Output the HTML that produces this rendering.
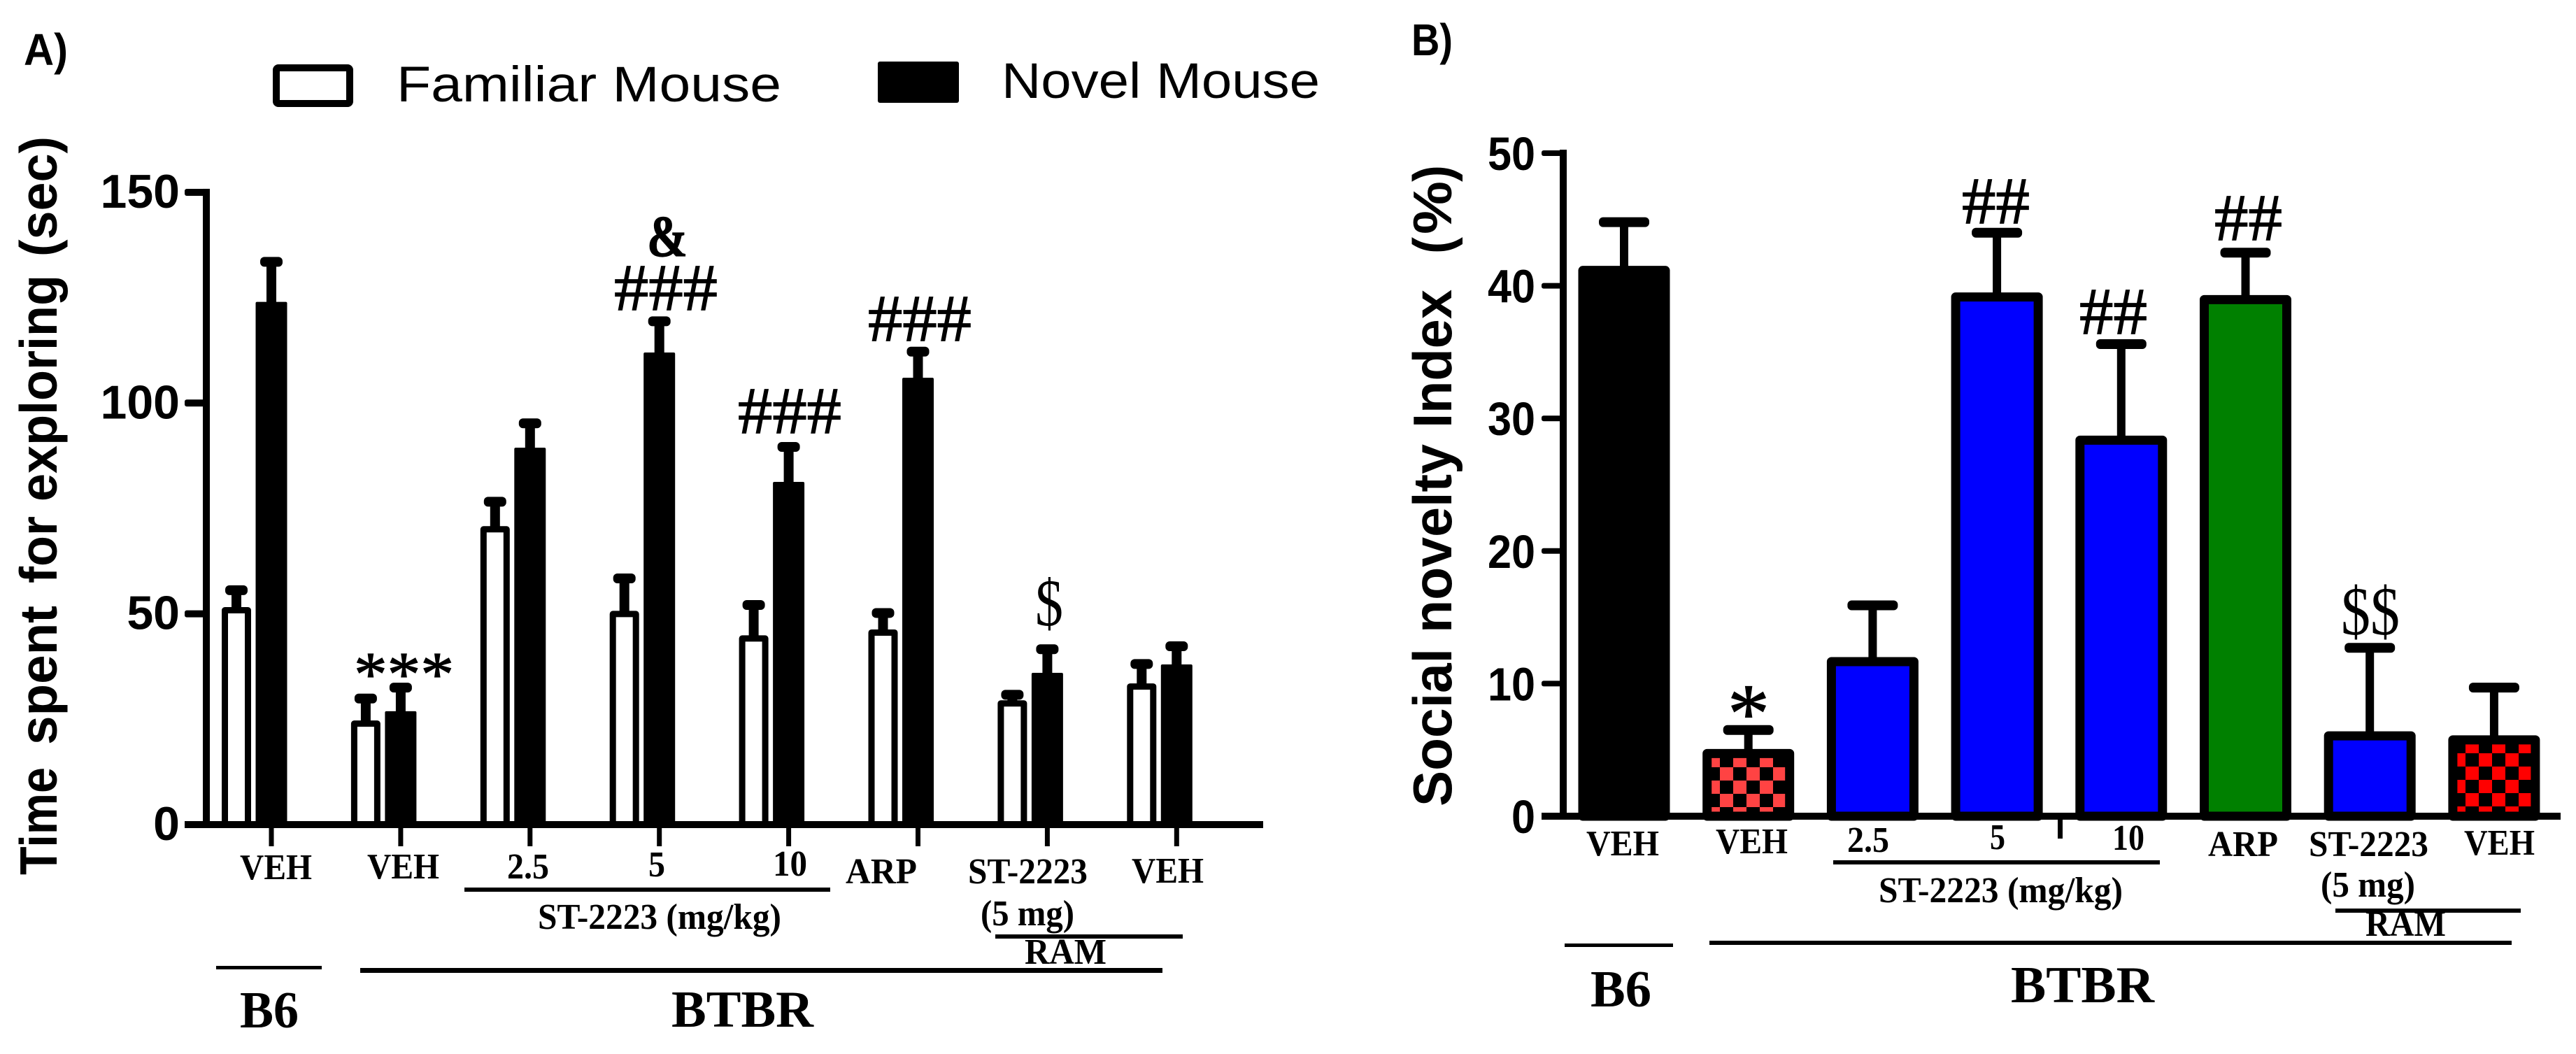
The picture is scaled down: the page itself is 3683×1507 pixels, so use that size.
<!DOCTYPE html>
<html lang="en">
<head>
<meta charset="utf-8">
<title>Social novelty charts</title>
<style>
html,body{margin:0;padding:0;background:#fff;}
svg{display:block;}
text{white-space:pre;fill:#000;}
.sans{font-family:"Liberation Sans",Arial,sans-serif;}
.serif{font-family:"Liberation Serif","Times New Roman",serif;}
.b{font-weight:bold;}
.xl{font-family:"Liberation Serif","Times New Roman",serif;font-weight:bold;font-size:52px;}
.gr{font-family:"Liberation Serif","Times New Roman",serif;font-weight:bold;font-size:74px;}
.ann{font-family:"Liberation Serif","Times New Roman",serif;stroke:#000;stroke-width:1.2px;}
</style>
</head>
<body>
<svg id="fig" xmlns="http://www.w3.org/2000/svg" width="3683" height="1507" viewBox="0 0 3683 1507">
<defs>
<pattern id="chk-light" patternUnits="userSpaceOnUse" x="2459" y="1097" width="38" height="38">
<rect width="38" height="38" fill="#000"/><rect width="19" height="19" fill="#ff4343"/><rect x="19" y="19" width="19" height="19" fill="#ff4343"/>
</pattern>
<pattern id="chk-red" patternUnits="userSpaceOnUse" x="3525" y="1096" width="38" height="38">
<rect width="38" height="38" fill="#000"/><rect width="19" height="19" fill="#ff0000"/><rect x="19" y="19" width="19" height="19" fill="#ff0000"/>
</pattern>
</defs>
<rect width="3683" height="1507" fill="#fff"/>

<g id="panelA">
<text class="sans b" x="34" y="93" font-size="64" textLength="63" lengthAdjust="spacingAndGlyphs">A)</text>
<rect x="395" y="97" width="105" height="51" rx="3" fill="#fff" stroke="#000" stroke-width="10"/>
<text class="sans" x="567" y="145" font-size="71" textLength="550" lengthAdjust="spacingAndGlyphs">Familiar Mouse</text>
<rect x="1255" y="88" width="116" height="59" rx="3" fill="#000"/>
<text class="sans" x="1432" y="140" font-size="71" textLength="455" lengthAdjust="spacingAndGlyphs">Novel Mouse</text>
<g>
<text class="sans b" transform="translate(81 1251) rotate(-90)" font-size="75" textLength="154" lengthAdjust="spacingAndGlyphs">Time</text>
<text class="sans b" transform="translate(81 1065) rotate(-90)" font-size="75" textLength="199" lengthAdjust="spacingAndGlyphs">spent</text>
<text class="sans b" transform="translate(81 834) rotate(-90)" font-size="75" textLength="96" lengthAdjust="spacingAndGlyphs">for</text>
<text class="sans b" transform="translate(81 717) rotate(-90)" font-size="75" textLength="324" lengthAdjust="spacingAndGlyphs">exploring</text>
<text class="sans b" transform="translate(81 367) rotate(-90)" font-size="75" textLength="172" lengthAdjust="spacingAndGlyphs">(sec)</text>
</g>

<text class="ann b" x="925" y="366" font-size="84" textLength="58" lengthAdjust="spacingAndGlyphs">&amp;</text>
<text class="ann" x="878" y="443" font-size="95" textLength="148" lengthAdjust="spacingAndGlyphs">###</text>
<text class="ann" x="1055" y="619" font-size="95" textLength="148" lengthAdjust="spacingAndGlyphs">###</text>
<text class="ann" x="1241" y="487" font-size="95" textLength="148" lengthAdjust="spacingAndGlyphs">###</text>
<text class="ann" x="506" y="994" font-size="90" textLength="143" lengthAdjust="spacingAndGlyphs">***</text>
<text class="ann" x="1480" y="894" font-size="95" textLength="40" lengthAdjust="spacingAndGlyphs" style="stroke-width:0">$</text>

<text class="xl" x="343" y="1257" textLength="103" lengthAdjust="spacingAndGlyphs">VEH</text>
<text class="xl" x="525" y="1256" textLength="103" lengthAdjust="spacingAndGlyphs">VEH</text>
<text class="xl" x="725" y="1256" textLength="60" lengthAdjust="spacingAndGlyphs">2.5</text>
<text class="xl" x="927" y="1253" textLength="24" lengthAdjust="spacingAndGlyphs">5</text>
<text class="xl" x="1105" y="1252" textLength="49" lengthAdjust="spacingAndGlyphs">10</text>
<text class="xl" x="1209" y="1263" textLength="102" lengthAdjust="spacingAndGlyphs">ARP</text>
<text class="xl" x="1384" y="1263" textLength="171" lengthAdjust="spacingAndGlyphs">ST-2223</text>
<text class="xl" x="1618" y="1262" textLength="103" lengthAdjust="spacingAndGlyphs">VEH</text>
<rect x="664" y="1269" width="523" height="6" fill="#000"/>
<text class="xl" x="769" y="1328" textLength="348" lengthAdjust="spacingAndGlyphs">ST-2223 (mg/kg)</text>
<text class="xl" x="1402" y="1323" textLength="134" lengthAdjust="spacingAndGlyphs">(5 mg)</text>
<rect x="1423" y="1336" width="268" height="6" fill="#000"/>
<text class="xl" x="1465" y="1378" textLength="117" lengthAdjust="spacingAndGlyphs">RAM</text>
<rect x="309" y="1381" width="151" height="5" fill="#000"/>
<rect x="515" y="1384" width="1147" height="7" fill="#000"/>
<text class="gr" x="343" y="1469" textLength="84" lengthAdjust="spacingAndGlyphs">B6</text>
<text class="gr" x="960" y="1468" textLength="203" lengthAdjust="spacingAndGlyphs">BTBR</text>
</g>

<g id="panelB">
<text class="sans b" x="2018" y="79" font-size="64" textLength="59" lengthAdjust="spacingAndGlyphs">B)</text>
<g>
<text class="sans b" transform="translate(2075 1153) rotate(-90)" font-size="78" textLength="226" lengthAdjust="spacingAndGlyphs">Social</text>
<text class="sans b" transform="translate(2075 905) rotate(-90)" font-size="78" textLength="270" lengthAdjust="spacingAndGlyphs">novelty</text>
<text class="sans b" transform="translate(2075 612) rotate(-90)" font-size="78" textLength="198" lengthAdjust="spacingAndGlyphs">Index</text>
<text class="sans b" transform="translate(2075 363) rotate(-90)" font-size="78" textLength="24" lengthAdjust="spacingAndGlyphs">(</text>
<text class="sans b" transform="translate(2075 335) rotate(-90)" font-size="78" textLength="76" lengthAdjust="spacingAndGlyphs">%</text>
<text class="sans b" transform="translate(2075 260) rotate(-90)" font-size="78" textLength="24" lengthAdjust="spacingAndGlyphs">)</text>
</g>

<text class="ann" x="2805" y="319" font-size="95" textLength="97" lengthAdjust="spacingAndGlyphs">##</text>
<text class="ann" x="2973" y="477" font-size="95" textLength="97" lengthAdjust="spacingAndGlyphs">##</text>
<text class="ann" x="3166" y="343" font-size="95" textLength="97" lengthAdjust="spacingAndGlyphs">##</text>
<text class="ann" x="2500" y="1060" font-size="120" text-anchor="middle">*</text>
<text class="ann" x="3347" y="907" font-size="99" textLength="84" lengthAdjust="spacingAndGlyphs" style="stroke-width:0">$$</text>

<text class="xl" x="2268" y="1223" textLength="104" lengthAdjust="spacingAndGlyphs">VEH</text>
<text class="xl" x="2453" y="1220" textLength="103" lengthAdjust="spacingAndGlyphs">VEH</text>
<text class="xl" x="2641" y="1218" textLength="60" lengthAdjust="spacingAndGlyphs">2.5</text>
<text class="xl" x="2845" y="1214" textLength="22" lengthAdjust="spacingAndGlyphs">5</text>
<text class="xl" x="3020" y="1215" textLength="46" lengthAdjust="spacingAndGlyphs">10</text>
<text class="xl" x="3157" y="1224" textLength="100" lengthAdjust="spacingAndGlyphs">ARP</text>
<text class="xl" x="3301" y="1224" textLength="171" lengthAdjust="spacingAndGlyphs">ST-2223</text>
<text class="xl" x="3523" y="1222" textLength="101" lengthAdjust="spacingAndGlyphs">VEH</text>
<rect x="2621" y="1230" width="467" height="6" fill="#000"/>
<text class="xl" x="2686" y="1290" textLength="349" lengthAdjust="spacingAndGlyphs">ST-2223 (mg/kg)</text>
<text class="xl" x="3318" y="1282" textLength="135" lengthAdjust="spacingAndGlyphs">(5 mg)</text>
<rect x="3339" y="1299" width="265" height="6" fill="#000"/>
<text class="xl" x="3382" y="1338" textLength="115" lengthAdjust="spacingAndGlyphs">RAM</text>
<rect x="2237" y="1349" width="155" height="5" fill="#000"/>
<rect x="2444" y="1345" width="1147" height="6" fill="#000"/>
<text class="gr" x="2274" y="1439" textLength="87" lengthAdjust="spacingAndGlyphs">B6</text>
<text class="gr" x="2875" y="1433" textLength="205" lengthAdjust="spacingAndGlyphs">BTBR</text>
</g>
</svg>

<script>
// Panel A data
const groupsA = ['VEH B6', 'VEH BTBR', '2.5', '5', '10', 'ARP', 'ST-2223 RAM', 'VEH RAM'];
const familiarMeans = [51.6, 24.7, 70.8, 50.7, 44.9, 46.3, 29.5, 33.5];
const familiarErrors = [55.6, 29.9, 76.6, 58.4, 52.1, 50.2, 30.8, 38.1];
const novelMeans = [124, 26.9, 89.4, 112, 81.3, 106, 36, 38];
const novelErrors = [133.5, 32.5, 95.2, 119.4, 89.6, 112.2, 41.6, 42.3];
const ticksA = [0, 50, 100, 150];

// Panel B data
const groupsB = ['VEH B6', 'VEH BTBR', '2.5', '5', '10', 'ARP', 'ST-2223 RAM', 'VEH RAM'];
const indexMeans = [41.5, 5.07, 12.0, 39.5, 28.7, 39.3, 6.4, 6.1];
const indexErrors = [44.8, 6.5, 15.9, 44, 35.6, 42.5, 12.7, 9.7];
const indexFills = ['#000000', 'url(#chk-light)', '#0000ff', '#0000ff', '#0000ff', '#008000', '#0000ff', 'url(#chk-red)'];
const ticksB = [0, 10, 20, 30, 40, 50];

const NS = 'http://www.w3.org/2000/svg';
function mk(parent, tag, attrs) {
  const el = document.createElementNS(NS, tag);
  for (const k in attrs) el.setAttribute(k, attrs[k]);
  parent.appendChild(el);
  return el;
}

// Axis functions
function yA(v) { return 1179 - v * 6.027; }
function xA(i) { return 388 + 184.9 * i; }
function yB(v) { return 1167 - v * 18.96; }
function xB(i) { return 2322 + 177.7 * i; }

const panelA = document.getElementById('panelA');
const panelB = document.getElementById('panelB');

// ---- Panel A marks
function errorA(cx, mean, err, label) {
  const stem = mk(panelA, 'rect', { x: cx - 7, y: yA(err), width: 14, height: yA(mean) - yA(err) + 4, fill: '#000' });
  
  
  const cap = mk(panelA, 'rect', { x: cx - 16, y: yA(err) - 7, width: 32, height: 14, rx: 6, fill: '#000' });
  
  
}
groupsA.forEach(function (g, i) {
  const cx = xA(i);
  const fx = cx - 50;
  errorA(fx, familiarMeans[i], familiarErrors[i], 'familiar-' + i);
  errorA(cx, novelMeans[i], novelErrors[i], 'novel-' + i);
  const fam = mk(panelA, 'rect', { x: fx - 16.5, y: yA(familiarMeans[i]) + 4.5, width: 33, height: 1179 - yA(familiarMeans[i]) - 4.5, fill: '#fff', stroke: '#000', 'stroke-width': 9, 'stroke-linejoin': 'round' });
  
  
  const nov = mk(panelA, 'rect', { x: cx - 22.5, y: yA(novelMeans[i]), width: 45, height: 1179 - yA(novelMeans[i]), fill: '#000', rx: 2 });
  
  
  const t = mk(panelA, 'rect', { x: cx - 3.5, y: 1182, width: 7, height: 28, fill: '#000' });
  
  
});
const axisYA = mk(panelA, 'rect', { x: 290, y: yA(150) - 5, width: 10, height: 1179 - yA(150) + 5, fill: '#000' });


const axisXA = mk(panelA, 'rect', { x: 264, y: 1174, width: 1542, height: 10, fill: '#000' });


ticksA.forEach(function (v) {
  const tk = mk(panelA, 'rect', { x: 264, y: yA(v) - 5, width: 30, height: 10, rx: 3, fill: '#000' });
  
  
  const lb = mk(panelA, 'text', { x: 257, y: yA(v) + 22, 'text-anchor': 'end', 'font-size': 68, class: 'sans b' });
  lb.textContent = String(v);
  
  
});

// ---- Panel B marks
groupsB.forEach(function (g, i) {
  const cx = xB(i);
  const stem = mk(panelB, 'rect', { x: cx - 6, y: yB(indexErrors[i]), width: 12, height: yB(indexMeans[i]) - yB(indexErrors[i]) + 4, fill: '#000' });
  
  
  const cap = mk(panelB, 'rect', { x: cx - 36, y: yB(indexErrors[i]) - 7, width: 72, height: 14, rx: 6, fill: '#000' });
  
  
  const bar = mk(panelB, 'rect', { x: cx - 59, y: yB(indexMeans[i]) + 6.5, width: 118, height: 1167 - yB(indexMeans[i]) - 6.5, fill: indexFills[i], stroke: '#000', 'stroke-width': 13, 'stroke-linejoin': 'round' });
  
  
});
const axisYB = mk(panelB, 'rect', { x: 2230, y: yB(50) - 5, width: 10, height: 1167 - yB(50) + 5, fill: '#000' });


const axisXB = mk(panelB, 'rect', { x: 2204, y: 1162, width: 1457, height: 10, fill: '#000' });


const midTick = mk(panelB, 'rect', { x: 2942, y: 1170, width: 7, height: 29, fill: '#000' });


ticksB.forEach(function (v) {
  const tk = mk(panelB, 'rect', { x: 2204, y: yB(v) - 4, width: 30, height: 8, rx: 3, fill: '#000' });
  
  
  const s = String(v);
  const lb = mk(panelB, 'text', { x: 2195, y: yB(v) + 24, 'text-anchor': 'end', 'font-size': 67, class: 'sans b', textLength: s.length * 34, lengthAdjust: 'spacingAndGlyphs' });
  lb.textContent = s;
  
  
});
</script>
</body>
</html>
